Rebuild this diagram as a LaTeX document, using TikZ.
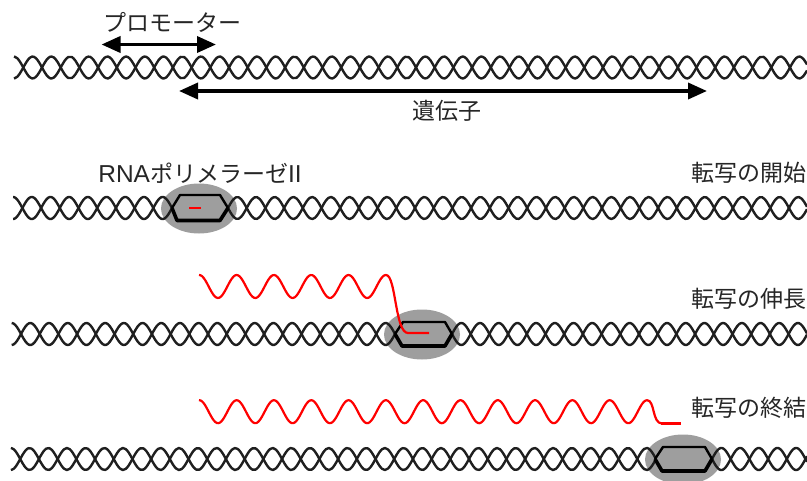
\documentclass[tikz,border=0pt]{standalone}
\usepackage{fontspec}
\setmainfont{Noto Sans CJK JP}
\newfontfamily\latinfont{Liberation Sans}
\usetikzlibrary{arrows.meta}
\tikzset{
  strand/.style={line width=2.4pt,black!88},
  rnastrand/.style={line width=2.2pt,red},
  span/.style={line width=3.6pt,black,{Triangle[length=19pt,width=16pt]}-{Triangle[length=19pt,width=16pt]}},
  tag/.style={font=\fontsize{23pt}{23pt}\selectfont,text=black!85,inner sep=0pt},
}
% One run of the double helix: centre y, a crossing point, x range
\newcommand{\helixrun}[4]{%
  \draw[strand,line join=round] plot[samples=220,domain=#3:#4,smooth]
    (\x,{#1+11*sin((\x-#2)*9.626)});
  \draw[strand,line join=round] plot[samples=220,domain=#3:#4,smooth]
    (\x,{#1-11*sin((\x-#2)*9.626)});
}
% Opened bubble of the transcribing complex
\newcommand{\bubblehex}[8]{%
  \draw[line width=2.4pt,black,line join=round] (#1,#8) -- (#2,#5) -- (#3,#5) -- (#4,#8);
  \draw[line width=3.6pt,black,line join=round] (#1,#8) -- (#6,#7) -- (#3,#7) -- (#4,#8);
}
\begin{document}
\begin{tikzpicture}[x=1pt,y=-1pt]
  \useasboundingbox (0,0) rectangle (807,480);

  % Promoter and gene extents on the first strand
  \helixrun{67.5}{23.3}{14}{807}
  \coordinate (promL) at (101.5,44.5);
  \coordinate (promR) at (216,44.5);
  \coordinate (geneL) at (179,91);
  \coordinate (geneR) at (707,91);
  \draw[span] (promL) -- (promR);
  \draw[span] (geneL) -- (geneR);
  \node[tag] (promoter) at (172,22) {プロモーター};
  \node[tag] (gene) at (447,111) {遺伝子};

  % Initiation
  \fill[black!38] (199,208.5) ellipse [x radius=38,y radius=25];
  \helixrun{208}{172}{13.1}{172}
  \helixrun{208}{228}{228}{807}
  \bubblehex{172}{180}{220}{228}{195}{177}{220.5}{208}
  \coordinate (rnaA) at (189,208);
  \coordinate (rnaB) at (201,208);
  \draw[line width=2.4pt,red] (rnaA) -- (rnaB);
  \node[tag] (pol) at (200,173) {{\latinfont\fontsize{24.5pt}{24.5pt}\selectfont RNA}ポリメラーゼ{\latinfont\fontsize{24.5pt}{24.5pt}\selectfont II}};
  \node[tag,anchor=east] (init) at (807,173) {転写の開始};

  % Elongation
  \fill[black!38] (422,334.5) ellipse [x radius=38,y radius=25];
  \helixrun{334}{395}{11.7}{395}
  \helixrun{334}{452}{452}{807}
  \bubblehex{395}{403}{445}{452}{322}{402}{346}{334}
  \draw[rnastrand,line join=round] plot[samples=120,domain=199:386,smooth] (\x,{286.5+11.5*cos((\x-218)*9.65)})
     .. controls (396,275) and (395,333) .. (408,333) -- (429,333);
  \node[tag,anchor=east] (elong) at (807,299) {転写の伸長};

  % Termination
  \fill[black!38] (683,459.5) ellipse [x radius=38,y radius=25];
  \helixrun{459}{656}{10.9}{656}
  \helixrun{459}{712}{712}{807}
  \bubblehex{655}{663}{705}{712}{447}{662}{471}{459}
  \draw[rnastrand,line join=round] plot[samples=300,domain=199:647,smooth] (\x,{411.7+11.5*cos((\x-218)*9.65)})
     .. controls (655,400) and (652,423.5) .. (662,423.5);
  \draw[line width=3pt,red] (661,423.5) -- (681,423.5);
  \node[tag,anchor=east] (term) at (807,408) {転写の終結};
\end{tikzpicture}
\end{document}
